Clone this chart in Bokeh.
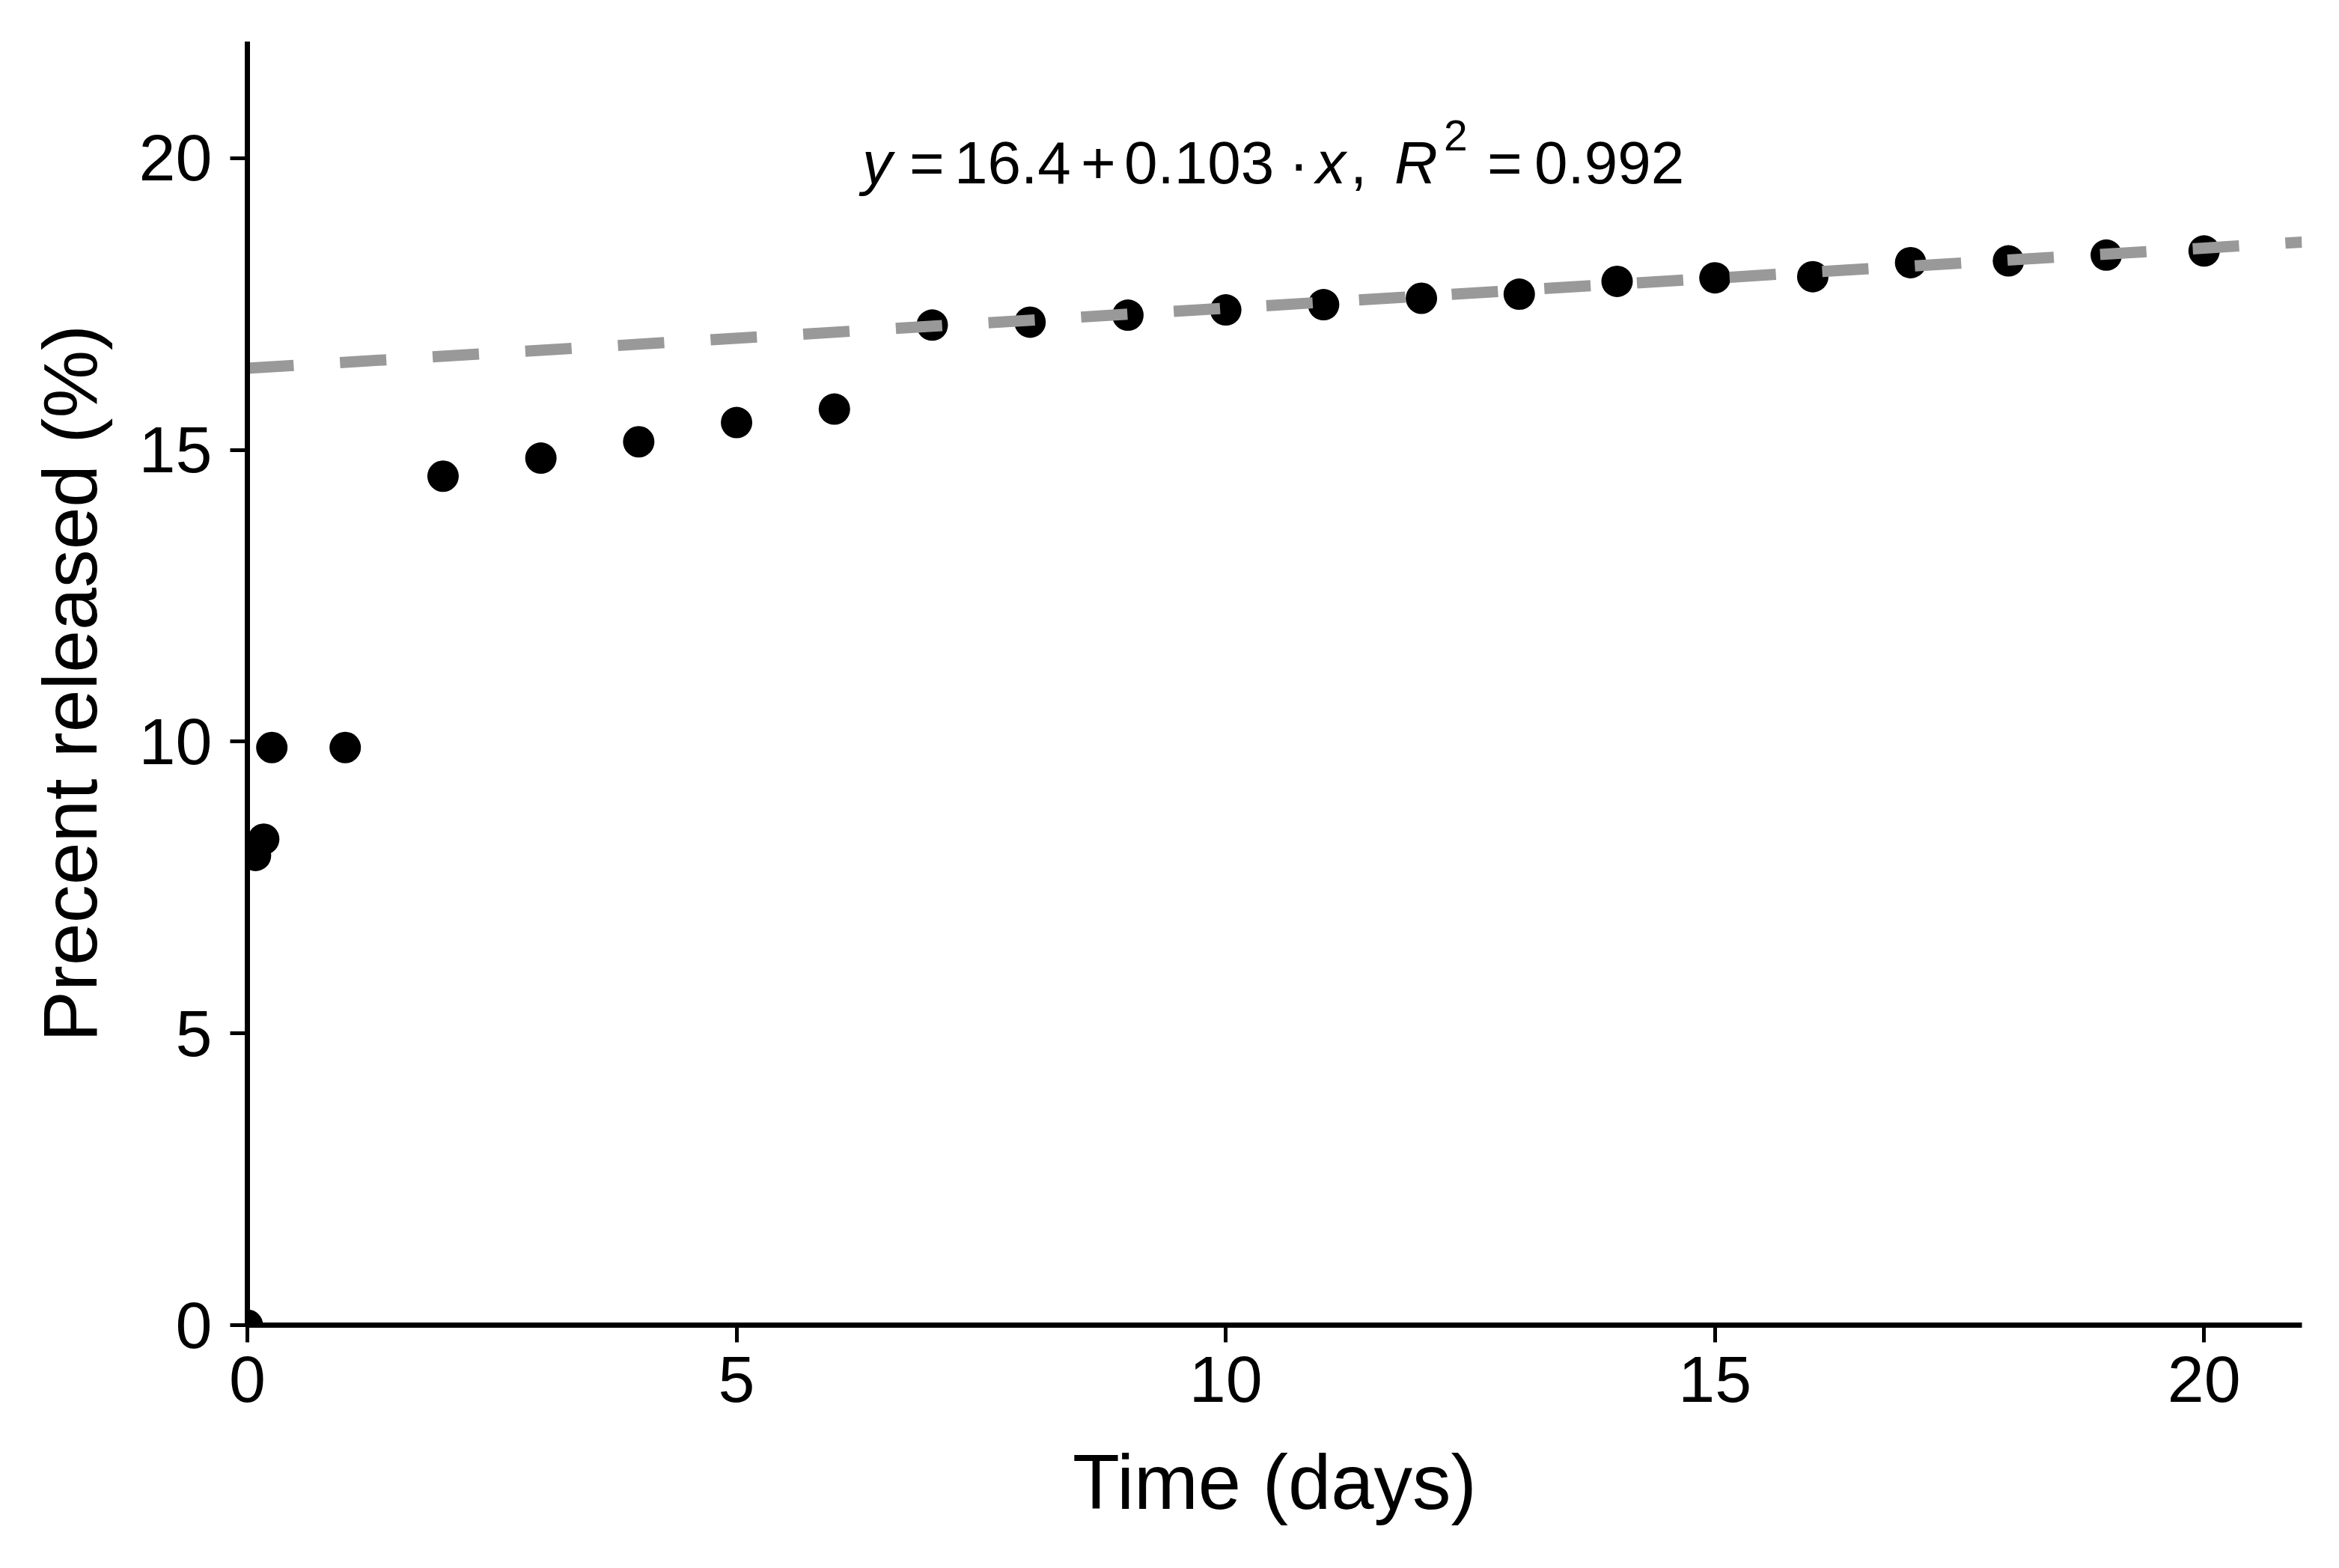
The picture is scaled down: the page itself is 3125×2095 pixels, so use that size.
from bokeh.plotting import figure
from bokeh.models import ColumnDataSource, Range1d, FixedTicker, Label
from bokeh.embed import file_html
from bokeh.resources import INLINE

# ---- data ----
time_days = [0, 0.083, 0.167, 0.25, 1, 2, 3, 4, 5, 6, 7, 8, 9, 10,
             11, 12, 13, 14, 15, 16, 17, 18, 19, 20]
pct_released = [0.0, 8.05, 8.33, 9.90, 9.90, 14.55, 14.86, 15.14, 15.47, 15.70,
                17.14, 17.19, 17.31, 17.40, 17.49, 17.60, 17.67, 17.89, 17.95,
                17.97, 18.21, 18.24, 18.34, 18.41]
fit_intercept = 16.4
fit_slope = 0.103
fit_x = [0, 21]
x_ticks = [0, 5, 10, 15, 20]
y_ticks = [0, 5, 10, 15, 20]
eq_parts = ["y", "=", "16.4", "+", "0.103", "\u00b7", "x", ",", "R", "2", "=", "0.992"]

FONT = "Liberation Sans"

p = figure(width=3100, height=2080, output_backend="svg", toolbar_location=None,
           x_range=Range1d(0, 21), y_range=Range1d(0, 22),
           min_border_left=330, min_border_right=25, min_border_top=55,
           min_border_bottom=310)
p.outline_line_color = None
p.background_fill_color = "white"
p.border_fill_color = "white"
p.grid.visible = False

src = ColumnDataSource(dict(x=time_days, y=pct_released))
p.scatter("x", "y", source=src, size=42, color="black", line_color=None)

fit_y = [fit_intercept + fit_slope * v for v in fit_x]
p.line(fit_x, fit_y, line_color="#999999", line_width=15, line_dash="62 62",
       line_cap="butt")

for ax in (p.xaxis[0], p.yaxis[0]):
    ax.axis_line_width = 7
    ax.axis_line_color = "black"
    ax.major_tick_line_width = 5
    ax.major_tick_line_color = "black"
    ax.major_tick_out = 23
    ax.major_tick_in = 0
    ax.minor_tick_out = 0
    ax.minor_tick_in = 0
    ax.major_label_text_font = FONT
    ax.major_label_text_font_size = "88px"
    ax.major_label_text_color = "black"
    ax.axis_label_text_font = FONT
    ax.axis_label_text_font_style = "normal"
    ax.axis_label_text_color = "black"

p.xaxis.ticker = FixedTicker(ticks=x_ticks)
p.yaxis.ticker = FixedTicker(ticks=y_ticks)
p.xaxis.major_label_standoff = 19
p.yaxis.major_label_standoff = 24
p.xaxis.axis_label_standoff = 47
p.yaxis.axis_label_standoff = 32
p.xaxis.axis_label_text_font_size = "103px"
p.yaxis.axis_label_text_font_size = "102px"
p.xaxis.axis_label = "Time (days)"
p.yaxis.axis_label = "Precent released (%)"

# equation annotation pieces (offsets in px relative to the panel centre)
offsets = [-551, -488, -428, -259, -201, 19, 55, 101, 160, 226, 284, 347]
italic = [True, False, False, False, False, False, True, False, True, False, False, False]
sizes = ["80px"] * 12
sizes[9] = "57px"
yoffs = [0] * 12
yoffs[9] = 37
for txt, off, it, sz, yo in zip(eq_parts, offsets, italic, sizes, yoffs):
    p.add_layout(Label(x=10.5, y=19.92, x_offset=off, y_offset=yo, text=txt,
                       text_font=FONT, text_font_size=sz,
                       text_font_style="italic" if it else "normal",
                       text_align="left", text_baseline="alphabetic",
                       text_color="black"))

open("out.html", "w").write(file_html(p, INLINE))
